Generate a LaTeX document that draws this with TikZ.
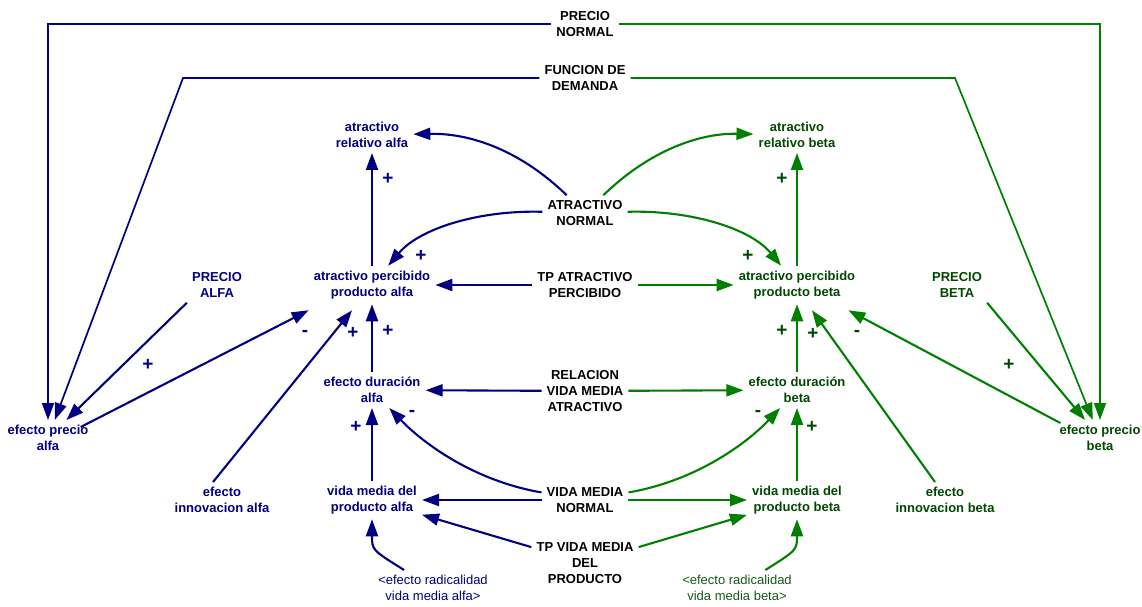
\documentclass[tikz,border=0pt]{standalone}
\usepackage{fontspec}
\setmainfont{Liberation Sans}
\usetikzlibrary{arrows.meta}
\definecolor{navy}{RGB}{0,0,128}
\definecolor{grn}{RGB}{0,128,0}
\definecolor{dgrn}{RGB}{0,72,0}
\definecolor{sgrn}{RGB}{20,90,20}
\begin{document}
\begin{tikzpicture}[x=1pt,y=-1pt,
  v/.style={font=\fontsize{13}{16}\selectfont\bfseries, align=center, inner sep=5pt},
  va/.style={v,text=navy}, vb/.style={v,text=dgrn}, vc/.style={v,text=black},
  sv/.style={font=\fontsize{13}{16}\selectfont, align=center, inner sep=5pt},
  sa/.style={sv,text=navy}, sb/.style={sv,text=sgrn},
  tip/.style={-{Triangle[length=17pt,width=12pt]}},
  la/.style={draw=navy, line width=2.1pt, tip},
  lb/.style={draw=grn, line width=2.1pt, tip},
  ta/.style={draw=navy, line width=1.7pt, tip},
  tb/.style={draw=grn, line width=1.7pt, tip},
  pol/.style={font=\fontsize{19}{19}\selectfont\bfseries, inner sep=0pt},
  pa/.style={pol,text=navy}, pb/.style={pol,text=dgrn}]
\useasboundingbox (0,0) rectangle (1142,607);
% variables
\node[vc] (pn) at (585,24) {PRECIO\\NORMAL};
\node[vc] (fd) at (585,78) {FUNCION DE\\DEMANDA};
\node[va] (arA) at (372,135) {atractivo\\relativo alfa};
\node[vb] (arB) at (797,135) {atractivo\\relativo beta};
\node[vc] (an) at (585,213) {ATRACTIVO\\NORMAL};
\node[vc] (tpa) at (585,285) {TP ATRACTIVO\\PERCIBIDO};
\node[va] (apA) at (372,285) {atractivo percibido\\producto alfa};
\node[vb] (apB) at (797,285) {atractivo percibido\\producto beta};
\node[va] (paA) at (217,285) {PRECIO\\ALFA};
\node[vb] (pbB) at (957,285) {PRECIO\\BETA};
\node[vc] (rel) at (585,391) {RELACION\\VIDA MEDIA\\ATRACTIVO};
\node[va] (edA) at (372,390) {efecto duración\\alfa};
\node[vb] (edB) at (797,390) {efecto duración\\beta};
\node[va] (epA) at (48,438) {efecto precio\\alfa};
\node[vb] (epB) at (1100,438) {efecto precio\\beta};
\node[va] (eiA) at (222,500) {efecto\\innovacion alfa};
\node[vb] (eiB) at (945,500) {efecto\\innovacion beta};
\node[va] (vmA) at (372,500) {vida media del\\producto alfa};
\node[vb] (vmB) at (797,500) {vida media del\\producto beta};
\node[vc] (vmn) at (585,500) {VIDA MEDIA\\NORMAL};
\node[vc] (tpv) at (585,563) {TP VIDA MEDIA\\DEL\\PRODUCTO};
\node[sa] (sA) at (433,588) {<efecto radicalidad\\vida media alfa>};
\node[sb] (sB) at (737,588) {<efecto radicalidad\\vida media beta>};
% corner points
\coordinate (c1) at (48,24);
\coordinate (c2) at (1100,24);
\coordinate (c3) at (183,78);
\coordinate (c4) at (955,78);
% long links
\draw[ta] (pn.west) -- (c1) -- (epA);
\draw[tb] (pn.east) -- (c2) -- (epB);
\draw[ta] (fd.west) -- (c3) -- (epA);
\draw[tb] (fd.east) -- (c4) -- (epB);
% alfa links
\draw[la] (paA.south west) -- (epA);
\draw[la] ([xshift=-13pt,yshift=-7pt]epA.north east) -- ([yshift=-6pt]apA.south west);
\draw[la] ([xshift=-9pt]eiA.north) -- ([xshift=-20pt,yshift=-6pt]apA.south);
\draw[la] (edA) -- (apA);
\draw[la] (apA) -- (arA);
\draw[la] (tpa) -- (apA);
\draw[la] (rel) -- (edA);
\draw[la] (vmn) -- (vmA);
\draw[la] (tpv) -- (vmA);
\draw[la] (vmA) -- (edA);
\draw[la] (an) .. controls (520,150) and (470,133) .. (arA);
\draw[la] (an) .. controls (480,210) and (420,228) .. (apA);
\draw[la] (vmn) .. controls (470,480) and (420,440) .. (edA);
\draw[la] (sA) .. controls (372,550) .. (vmA);
% beta links
\draw[lb] (pbB.south east) -- (epB);
\draw[lb] ([xshift=6pt,yshift=-3pt]epB.north west) -- ([xshift=-12pt,yshift=-6pt]apB.south east);
\draw[lb] ([xshift=-10pt]eiB.north) -- ([xshift=15pt,yshift=-6pt]apB.south);
\draw[lb] (edB) -- (apB);
\draw[lb] (apB) -- (arB);
\draw[lb] (tpa) -- (apB);
\draw[lb] (rel) -- (edB);
\draw[lb] (vmn) -- (vmB);
\draw[lb] (tpv) -- (vmB);
\draw[lb] (vmB) -- (edB);
\draw[lb] (an) .. controls (650,150) and (700,133) .. (arB);
\draw[lb] (an) .. controls (690,210) and (750,228) .. (apB);
\draw[lb] (vmn) .. controls (700,480) and (750,440) .. (edB);
\draw[lb] (sB) .. controls (797,550) .. (vmB);
% polarities
\node[pa] (p1) at (148,365) {+};
\node[pa] (p2) at (305,333) {-};
\node[pa] (p3) at (353,333) {+};
\node[pa] (p4) at (388,331) {+};
\node[pa] (p5) at (388,179) {+};
\node[pa] (p6) at (421,256) {+};
\node[pa] (p7) at (412,413) {-};
\node[pa] (p8) at (356,427) {+};
\node[pb] (q1) at (782,179) {+};
\node[pb] (q2) at (748,256) {+};
\node[pb] (q3) at (782,331) {+};
\node[pb] (q4) at (813,334) {+};
\node[pb] (q5) at (857,333) {-};
\node[pb] (q6) at (1009,365) {+};
\node[pb] (q7) at (758,413) {-};
\node[pb] (q8) at (812,427) {+};
\end{tikzpicture}
\end{document}
